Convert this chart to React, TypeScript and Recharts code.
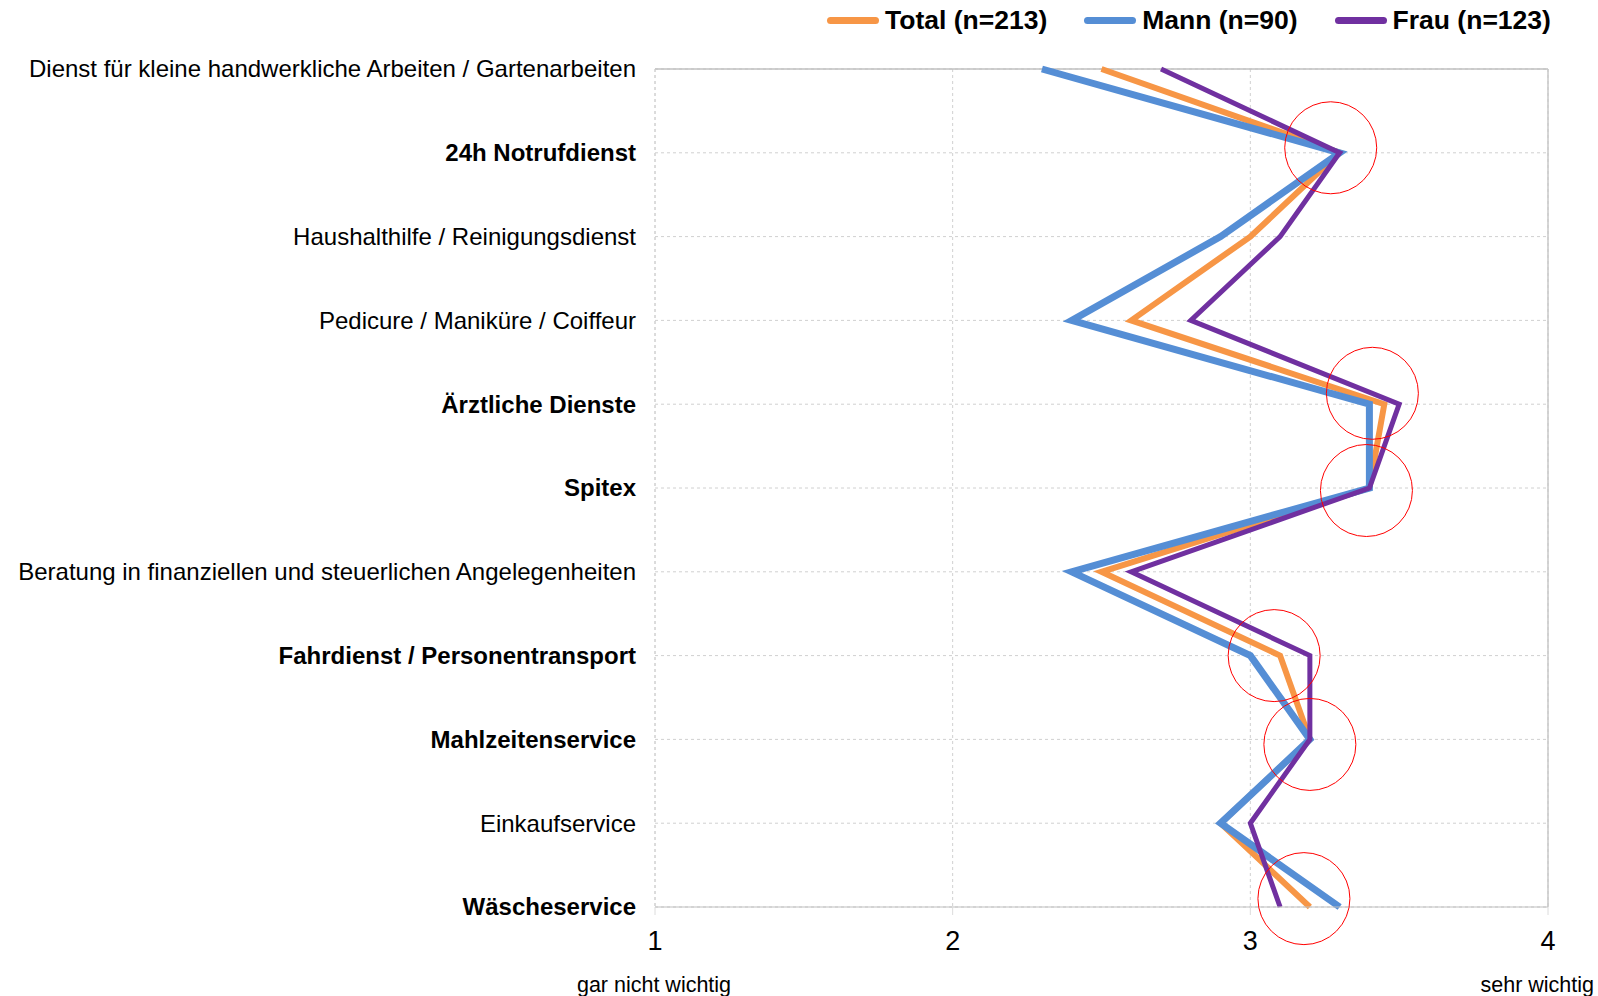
import React from 'react';
import { LineChart, Line, XAxis, YAxis, CartesianGrid, ReferenceDot, ReferenceLine } from 'recharts';

if (typeof document !== 'undefined') {
  document.body.style.margin = '0';
}

const categories = [
  'Dienst für kleine handwerkliche Arbeiten / Gartenarbeiten',
  '24h Notrufdienst',
  'Haushalthilfe / Reinigungsdienst',
  'Pedicure / Maniküre / Coiffeur',
  'Ärztliche Dienste',
  'Spitex',
  'Beratung in finanziellen und steuerlichen Angelegenheiten',
  'Fahrdienst / Personentransport',
  'Mahlzeitenservice',
  'Einkaufservice',
  'Wäscheservice',
];
const boldCategories = [
  '24h Notrufdienst',
  'Ärztliche Dienste',
  'Spitex',
  'Fahrdienst / Personentransport',
  'Mahlzeitenservice',
  'Wäscheservice',
];
const totalValues = [2.5, 3.3, 3.0, 2.6, 3.45, 3.4, 2.5, 3.1, 3.2, 2.9, 3.2];
const mannValues = [2.3, 3.3, 2.9, 2.4, 3.4, 3.4, 2.4, 3.0, 3.2, 2.9, 3.3];
const frauValues = [2.7, 3.3, 3.1, 2.8, 3.5, 3.4, 2.6, 3.2, 3.2, 3.0, 3.1];
const xTicks = [1, 2, 3, 4];
const xTickCaptions: Record<number, string> = { 1: 'gar nicht wichtig', 4: 'sehr wichtig' };
const circleValues = [3.27, 3.41, 3.39, 3.08, 3.2, 3.18];
const circlePositions = [0.94, 3.87, 5.03, 7.0, 8.06, 9.9];
const seriesKeys = ['total', 'mann', 'frau'];
const seriesNames = ['Total (n=213)', 'Mann (n=90)', 'Frau (n=123)'];
const seriesColors = ['#F79646', '#558ED5', '#7030A0'];
const seriesWidths = [6, 7, 5];

const data = categories.map((name, i) => ({
  idx: i,
  name,
  total: totalValues[i],
  mann: mannValues[i],
  frau: frauValues[i],
}));
const yTicks = categories.map((_, i) => i);

const FONT = '"Liberation Sans", Arial, sans-serif';

const YTick = (props: any) => {
  const { x, y, payload } = props;
  const label = categories[payload.value];
  const bold = boldCategories.includes(label);
  return (
    <text
      x={x}
      y={y}
      dy="0.35em"
      textAnchor="end"
      fontFamily={FONT}
      fontSize={24}
      fontWeight={bold ? 'bold' : 'normal'}
      fill="#000"
    >
      {label}
    </text>
  );
};

const XTick = (props: any) => {
  const { x, y, payload } = props;
  const caption = xTickCaptions[payload.value];
  return (
    <g>
      <text x={x} y={y + 35} textAnchor="middle" fontFamily={FONT} fontSize={27} fill="#000">
        {payload.value}
      </text>
      {caption ? (
        <text
          x={payload.value === 4 ? x + 46 : x - 1}
          y={y + 77}
          textAnchor={payload.value === 4 ? 'end' : 'middle'}
          fontFamily={FONT}
          fontSize={21.5}
          fill="#000"
        >
          {caption}
        </text>
      ) : null}
    </g>
  );
};

const LegendBox = () => (
  <div
    style={{
      position: 'absolute',
      top: 4,
      left: 827,
      display: 'flex',
      alignItems: 'center',
      fontFamily: FONT,
      fontWeight: 'bold',
      fontSize: 26.5,
      lineHeight: '32px',
      whiteSpace: 'nowrap',
    }}
  >
    {seriesNames.map((n, i) => (
      <div key={n} style={{ display: 'flex', alignItems: 'center', marginRight: i < 2 ? 37 : 0 }}>
        <span
          style={{
            display: 'inline-block',
            width: 52,
            height: 7,
            borderRadius: 4,
            background: seriesColors[i],
            marginRight: 6,
          }}
        />
        <span>{n}</span>
      </div>
    ))}
  </div>
);

export default function App() {
  return (
    <div style={{ position: 'relative', width: 1598, height: 996, background: '#fff' }}>
      <LineChart
        width={1598}
        height={996}
        data={data}
        layout="vertical"
        margin={{ top: 69, right: 50, bottom: 0, left: 0 }}
      >
        <CartesianGrid strokeDasharray="3 3" stroke="#d0d0d0" />
        <XAxis
          type="number"
          domain={[1, 4]}
          ticks={xTicks}
          interval={0}
          height={89}
          axisLine={{ stroke: '#bfbfbf' }}
          tickLine={{ stroke: '#dcdcdc' }}
          tickSize={8}
          tickMargin={0}
          tick={<XTick />}
        />
        <YAxis
          type="number"
          dataKey="idx"
          domain={[0, 10]}
          ticks={yTicks}
          interval={0}
          width={655}
          axisLine={{ stroke: '#d0d0d0', strokeDasharray: '3 3' }}
          tickLine={false}
          tickSize={8}
          tickMargin={11}
          tick={<YTick />}
        />
        <ReferenceLine y={0} stroke="#c0c0c0" strokeWidth={1.5} />
        <ReferenceLine x={4} stroke="#c8c8c8" strokeWidth={1.5} />
        {seriesKeys.map((k, i) => (
          <Line
            key={k}
            type="linear"
            dataKey={k}
            name={seriesNames[i]}
            stroke={seriesColors[i]}
            strokeWidth={seriesWidths[i]}
            dot={false}
            activeDot={false}
            isAnimationActive={false}
          />
        ))}
        {circleValues.map((v, i) => (
          <ReferenceDot
            key={i}
            x={v}
            y={circlePositions[i]}
            r={46}
            fill="none"
            stroke="#FF0000"
            strokeWidth={1}
            ifOverflow="visible"
          />
        ))}
      </LineChart>
      <LegendBox />
    </div>
  );
}
